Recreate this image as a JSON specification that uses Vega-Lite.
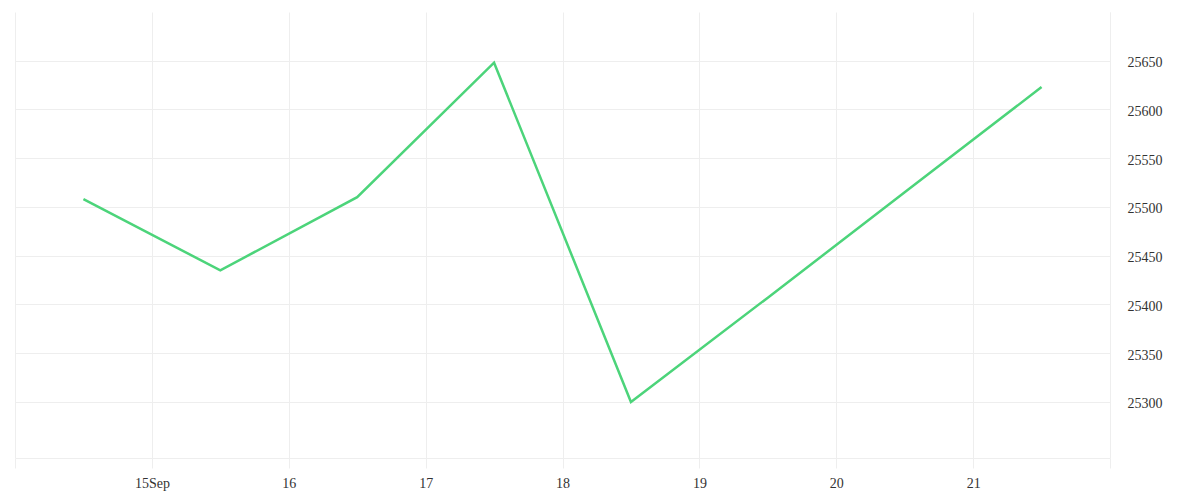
{
  "$schema": "https://vega.github.io/schema/vega-lite/v6.json",
  "autosize": "none",
  "padding": {"left": 15, "top": 12, "right": 90, "bottom": 42},
  "width": 1095,
  "height": 446,
  "background": "white",
  "config": {
    "view": {"stroke": null},
    "font": "Liberation Serif"
  },
  "data": {
    "values": [
      {"date": "2025-09-14T12:00:00Z", "value": 25508},
      {"date": "2025-09-15T12:00:00Z", "value": 25435},
      {"date": "2025-09-16T12:00:00Z", "value": 25510},
      {"date": "2025-09-17T12:00:00Z", "value": 25648},
      {"date": "2025-09-18T12:00:00Z", "value": 25300},
      {"date": "2025-09-19T12:00:00Z", "value": 25407},
      {"date": "2025-09-20T12:00:00Z", "value": 25515},
      {"date": "2025-09-21T12:00:00Z", "value": 25623}
    ]
  },
  "mark": {"type": "line", "color": "#4cd47a", "strokeWidth": 2.5, "clip": true},
  "encoding": {
    "x": {
      "field": "date",
      "type": "temporal",
      "scale": {
        "type": "utc",
        "domain": [
          {"year": 2025, "month": 9, "date": 14, "utc": true},
          {"year": 2025, "month": 9, "date": 22, "utc": true}
        ],
        "nice": false
      },
      "axis": {
        "title": null,
        "values": [
          {"year": 2025, "month": 9, "date": 14, "utc": true},
          {"year": 2025, "month": 9, "date": 15, "utc": true},
          {"year": 2025, "month": 9, "date": 16, "utc": true},
          {"year": 2025, "month": 9, "date": 17, "utc": true},
          {"year": 2025, "month": 9, "date": 18, "utc": true},
          {"year": 2025, "month": 9, "date": 19, "utc": true},
          {"year": 2025, "month": 9, "date": 20, "utc": true},
          {"year": 2025, "month": 9, "date": 21, "utc": true},
          {"year": 2025, "month": 9, "date": 22, "utc": true}
        ],
        "labelExpr": "utcdate(datum.value) == 15 ? '15Sep' : (utcdate(datum.value) == 14 || utcdate(datum.value) == 22 ? '' : '' + utcdate(datum.value))",
        "grid": true,
        "gridColor": "#eeeeee",
        "gridWidth": 1,
        "domain": true,
        "domainColor": "#eeeeee",
        "domainWidth": 1,
        "ticks": true,
        "tickColor": "#eeeeee",
        "tickSize": 10,
        "labelFont": "Liberation Serif",
        "labelFontSize": 14,
        "labelColor": "#333333",
        "labelPadding": 8,
        "labelFlush": false,
        "labelOverlap": false
      }
    },
    "y": {
      "field": "value",
      "type": "quantitative",
      "scale": {"domain": [25242.5, 25700], "nice": false, "zero": false},
      "axis": {
        "title": null,
        "orient": "right",
        "values": [25300, 25350, 25400, 25450, 25500, 25550, 25600, 25650],
        "format": "d",
        "grid": true,
        "gridColor": "#eeeeee",
        "gridWidth": 1,
        "domain": true,
        "domainColor": "#eeeeee",
        "ticks": false,
        "labelPadding": 17,
        "labelFont": "Liberation Serif",
        "labelFontSize": 14,
        "labelColor": "#333333",
        "labelBaseline": "middle",
        "labelOffset": 2
      }
    }
  }
}
